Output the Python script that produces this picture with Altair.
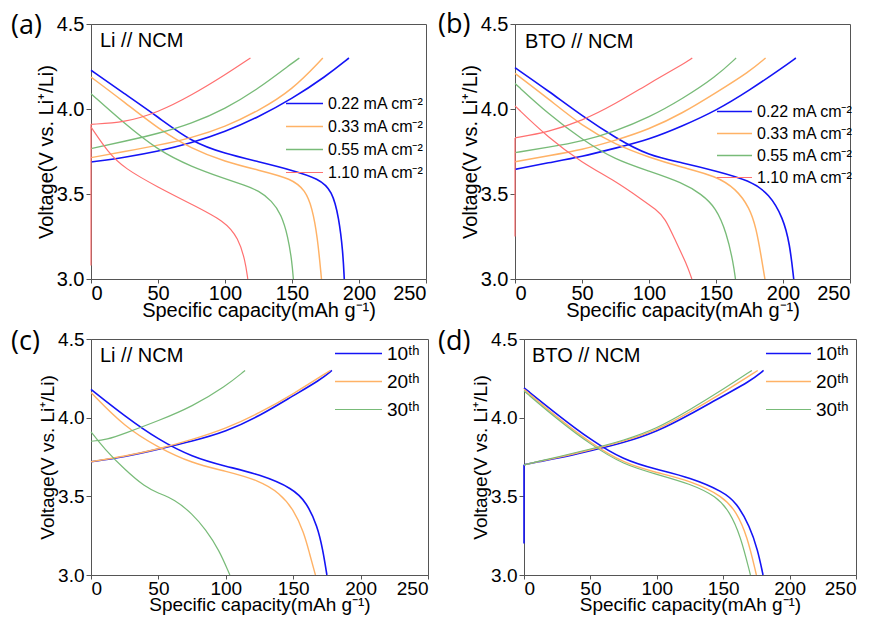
import altair as alt
import pandas as pd

FONT = "Liberation Sans"

# ---------------- data: (capacity mAh/g, voltage V) ----------------
RATE_LABELS = ["0.22 mA cm⁻²", "0.33 mA cm⁻²", "0.55 mA cm⁻²", "1.10 mA cm⁻²"]
CYCLE_LABELS = ["10ᵗʰ", "20ᵗʰ", "30ᵗʰ"]
RATE_COLORS = ["#1414f5", "#ffb266", "#78bb78", "#ff7070"]
CYCLE_COLORS = ["#1414f5", "#ffb266", "#78bb78"]

# panel (a) Li // NCM
a_chg_022 = [(0, 3.688), (25, 3.715), (50, 3.75), (75, 3.80), (100, 3.865), (125, 3.953), (150, 4.06), (175, 4.19), (192.5, 4.30)]
a_dis_022 = [(0, 4.228), (25, 4.09), (50, 3.953), (75, 3.806), (100, 3.737), (125, 3.69), (150, 3.64), (170, 3.59), (180, 3.52), (185, 3.36), (188, 3.16), (189, 3.0)]
a_chg_033 = [(0, 3.714), (25, 3.75), (50, 3.786), (75, 3.83), (100, 3.894), (125, 3.99), (150, 4.11), (173, 4.30)]
a_dis_033 = [(0, 4.188), (25, 4.04), (50, 3.884), (75, 3.766), (100, 3.69), (125, 3.64), (150, 3.59), (160, 3.52), (165, 3.42), (169, 3.25), (172, 3.0)]
a_chg_055 = [(0, 3.767), (25, 3.81), (50, 3.855), (75, 3.914), (100, 4.0), (125, 4.12), (150, 4.27), (155.5, 4.30)]
a_dis_055 = [(0, 4.09), (25, 3.914), (50, 3.757), (75, 3.66), (100, 3.59), (115, 3.55), (125, 3.52), (135, 3.46), (142, 3.38), (147, 3.25), (150, 3.10), (151, 3.0)]
a_rise_110 = [(0, 3.08), (0, 3.91)]
a_chg_110 = [(0, 3.91), (25, 3.92), (50, 3.98), (75, 4.08), (100, 4.20), (119, 4.30)]
a_dis_110 = [(0, 3.894), (12.5, 3.747), (25, 3.65), (50, 3.54), (75, 3.44), (100, 3.34), (110, 3.24), (115, 3.11), (117, 3.0)]

# panel (b) BTO // NCM
b_chg_022 = [(0, 3.645), (25, 3.684), (50, 3.72), (75, 3.77), (100, 3.82), (125, 3.90), (150, 3.99), (175, 4.11), (200, 4.245), (209.6, 4.30)]
b_dis_022 = [(0, 4.243), (25, 4.106), (50, 3.959), (75, 3.83), (100, 3.724), (125, 3.684), (150, 3.635), (175, 3.58), (190, 3.50), (200, 3.36), (205, 3.21), (208, 3.0)]
b_chg_033 = [(0, 3.69), (25, 3.725), (50, 3.76), (75, 3.815), (100, 3.88), (125, 3.975), (150, 4.096), (175, 4.22), (187, 4.30)]
b_dis_033 = [(0, 4.21), (25, 4.06), (50, 3.90), (75, 3.79), (100, 3.715), (125, 3.656), (150, 3.606), (165, 3.53), (175, 3.42), (180, 3.30), (184, 3.12), (186.5, 3.0)]
b_chg_055 = [(0, 3.743), (25, 3.775), (50, 3.81), (75, 3.87), (100, 3.95), (125, 4.06), (150, 4.19), (165, 4.30)]
b_dis_055 = [(0, 4.15), (25, 3.97), (50, 3.82), (75, 3.70), (100, 3.635), (125, 3.566), (139, 3.50), (150, 3.42), (158, 3.27), (163, 3.09), (164.5, 3.0)]
b_rise_110 = [(0, 3.25), (0, 3.83)]
b_chg_110 = [(0, 3.83), (25, 3.865), (50, 3.93), (75, 4.03), (100, 4.15), (129, 4.28), (132.3, 4.30)]
b_dis_110 = [(0, 4.018), (25, 3.83), (50, 3.684), (75, 3.576), (96, 3.46), (105, 3.41), (112, 3.36), (120, 3.22), (128, 3.09), (132, 3.0)]

# panel (c) Li // NCM cycles
c_chg_10 = [(0, 3.72), (25, 3.75), (50, 3.80), (75, 3.85), (100, 3.91), (125, 4.01), (150, 4.14), (170, 4.24), (178.7, 4.30)]
c_chg_20 = [(0, 3.72), (25, 3.755), (50, 3.80), (75, 3.86), (100, 3.93), (125, 4.03), (150, 4.15), (177.5, 4.30)]
c_chg_30 = [(0, 3.85), (12, 3.86), (25, 3.90), (50, 3.98), (75, 4.07), (100, 4.20), (114.3, 4.30)]
c_dis_10 = [(0, 4.18), (25, 4.01), (50, 3.86), (75, 3.75), (100, 3.69), (125, 3.64), (150, 3.55), (160, 3.46), (168, 3.31), (172, 3.16), (175, 3.0)]
c_dis_20 = [(0, 4.16), (25, 3.94), (50, 3.81), (75, 3.71), (100, 3.66), (125, 3.60), (140, 3.52), (150, 3.42), (158, 3.27), (162, 3.14), (166.5, 3.0)]
c_dis_30 = [(0, 3.91), (10, 3.80), (25, 3.67), (40, 3.56), (50, 3.52), (62, 3.48), (75, 3.39), (85, 3.29), (95, 3.16), (103, 3.0)]

# panel (d) BTO // NCM cycles
d_rise_10 = [(0, 3.2), (0, 3.70)]
d_chg_10 = [(0, 3.70), (10, 3.72), (25, 3.74), (50, 3.79), (75, 3.84), (100, 3.91), (125, 4.02), (150, 4.14), (170, 4.23), (180.4, 4.30)]
d_chg_20 = [(0, 3.70), (10, 3.72), (25, 3.745), (50, 3.795), (75, 3.85), (100, 3.92), (125, 4.035), (150, 4.16), (176, 4.30)]
d_chg_30 = [(0, 3.70), (10, 3.72), (25, 3.75), (50, 3.80), (75, 3.855), (100, 3.93), (125, 4.05), (150, 4.18), (171.6, 4.30)]
d_dis_10 = [(0, 4.19), (25, 4.02), (50, 3.86), (75, 3.73), (100, 3.67), (125, 3.62), (150, 3.53), (160, 3.46), (170, 3.31), (176, 3.16), (180, 3.0)]
d_dis_20 = [(0, 4.18), (25, 4.00), (50, 3.84), (75, 3.71), (100, 3.65), (125, 3.60), (150, 3.50), (160, 3.40), (168, 3.25), (175, 3.0)]
d_dis_30 = [(0, 4.17), (25, 3.99), (50, 3.83), (75, 3.70), (100, 3.64), (125, 3.58), (145, 3.50), (155, 3.40), (163, 3.25), (170.5, 3.0)]

X_TICKS = [0, 50, 100, 150, 200, 250]
Y_TICKS = [3.0, 3.5, 4.0, 4.5]


def panel(curves, labels, colors, widths, w, h, leg, legfont, tag, tagpos, note, notepos, axfont):
    # leg = (legendX, legendY, symbol box side, line length, row padding)
    rows = []
    for name, branch, pts in curves:
        for i, (x, y) in enumerate(pts):
            rows.append(dict(cap=x, volt=y, series=name, curve=name + branch, idx=i))
    df = pd.DataFrame(rows)
    lx, ly, side, length, rpad = leg
    k = length / side
    lines = alt.Chart(df).mark_line(interpolate="basis").encode(
        x=alt.X("cap:Q", scale=alt.Scale(domain=[0, 250], nice=False),
                axis=alt.Axis(values=X_TICKS, title="Specific capacity(mAh g⁻¹)",
                              labelFontSize=axfont, titleFontSize=axfont,
                              tickSize=4, labelPadding=0, titlePadding=-3)),
        y=alt.Y("volt:Q", scale=alt.Scale(domain=[3.0, 4.5], nice=False),
                axis=alt.Axis(values=Y_TICKS, format=".1f", title="Voltage(V vs. Li⁺/Li)",
                              labelFontSize=axfont, titleFontSize=axfont, titlePadding=0)),
        color=alt.Color("series:N", scale=alt.Scale(domain=labels, range=colors),
                        legend=alt.Legend(orient="none", legendX=lx + (length - side) / 2, legendY=ly,
                                          title=None,
                                          symbolType=f"M{-k:.3f},0H{k:.3f}", symbolSize=side ** 2,
                                          symbolStrokeWidth=1.5, labelFontSize=legfont,
                                          labelFont=FONT, labelColor="black", labelLimit=400,
                                          rowPadding=rpad, labelOffset=4 + (length - side) / 2, padding=0)),
        strokeWidth=alt.StrokeWidth("series:N", scale=alt.Scale(domain=labels, range=widths), legend=None),
        detail="curve:N",
        order="idx:Q",
    )
    tag_layer = alt.Chart(pd.DataFrame({"t": [tag]})).mark_text(
        align="left", baseline="alphabetic", fontSize=27, font="Open Sans", color="black"
    ).encode(x=alt.value(tagpos[0]), y=alt.value(tagpos[1]), text="t:N")
    note_layer = alt.Chart(pd.DataFrame({"t": [note]})).mark_text(
        align="left", baseline="alphabetic", fontSize=20, font=FONT, color="black"
    ).encode(x=alt.value(notepos[0]), y=alt.value(notepos[1]), text="t:N")
    return alt.layer(lines, tag_layer, note_layer).properties(width=w, height=h)


pa = panel([(RATE_LABELS[0], "c", a_chg_022), (RATE_LABELS[0], "d", a_dis_022),
            (RATE_LABELS[1], "c", a_chg_033), (RATE_LABELS[1], "d", a_dis_033),
            (RATE_LABELS[2], "c", a_chg_055), (RATE_LABELS[2], "d", a_dis_055),
            (RATE_LABELS[3], "v", a_rise_110),
            (RATE_LABELS[3], "c", a_chg_110), (RATE_LABELS[3], "d", a_dis_110)],
           RATE_LABELS, RATE_COLORS, [1.6, 1.2, 1.2, 1.2], 335, 255,
           (194, 65, 27, 37, -2), 16, "(a)", (-80, 10), "Li // NCM", (9, 23), 20)
pb = panel([(RATE_LABELS[0], "c", b_chg_022), (RATE_LABELS[0], "d", b_dis_022),
            (RATE_LABELS[1], "c", b_chg_033), (RATE_LABELS[1], "d", b_dis_033),
            (RATE_LABELS[2], "c", b_chg_055), (RATE_LABELS[2], "d", b_dis_055),
            (RATE_LABELS[3], "v", b_rise_110),
            (RATE_LABELS[3], "c", b_chg_110), (RATE_LABELS[3], "d", b_dis_110)],
           RATE_LABELS, RATE_COLORS, [1.6, 1.2, 1.2, 1.2], 335, 255,
           (201, 74, 25, 35, -3), 16, "(b)", (-77, 9), "BTO // NCM", (10, 24), 20)
pc = panel([(CYCLE_LABELS[0], "c", c_chg_10), (CYCLE_LABELS[0], "d", c_dis_10),
            (CYCLE_LABELS[1], "c", c_chg_20), (CYCLE_LABELS[1], "d", c_dis_20),
            (CYCLE_LABELS[2], "c", c_chg_30), (CYCLE_LABELS[2], "d", c_dis_30)],
           CYCLE_LABELS, CYCLE_COLORS, [1.6, 1.2, 1.2], 337, 236,
           (243, -3, 33, 47, -2), 19, "(c)", (-80, 11), "Li // NCM", (9, 23), 19)
pd_ = panel([(CYCLE_LABELS[0], "v", d_rise_10),
             (CYCLE_LABELS[0], "c", d_chg_10), (CYCLE_LABELS[0], "d", d_dis_10),
             (CYCLE_LABELS[1], "c", d_chg_20), (CYCLE_LABELS[1], "d", d_dis_20),
             (CYCLE_LABELS[2], "c", d_chg_30), (CYCLE_LABELS[2], "d", d_dis_30)],
            CYCLE_LABELS, CYCLE_COLORS, [1.6, 1.2, 1.2], 332, 236,
            (241, -3, 33, 45, -2), 19, "(d)", (-86, 11), "BTO // NCM", (8, 23), 19)

row1 = alt.hconcat(pa, pb, spacing=89, bounds="flush").resolve_scale(color="independent", strokeWidth="independent")
row2 = alt.hconcat(pc, pd_, spacing=96, bounds="flush").resolve_scale(color="independent", strokeWidth="independent")

chart = alt.vconcat(row1, row2, spacing=6).resolve_scale(
    color="independent", strokeWidth="independent"
).properties(
    padding={"left": 2, "top": 2, "right": 2, "bottom": 2}
).configure_view(
    stroke="#555555", strokeWidth=1
).configure_axis(
    grid=False, domainColor="#555555", tickColor="#555555", tickSize=5,
    labelFont=FONT, titleFont=FONT, labelColor="black", titleColor="black",
    titleFontWeight="normal", labelPadding=2
)

chart.save("out.html", embed_options={"renderer": "svg", "actions": False})
